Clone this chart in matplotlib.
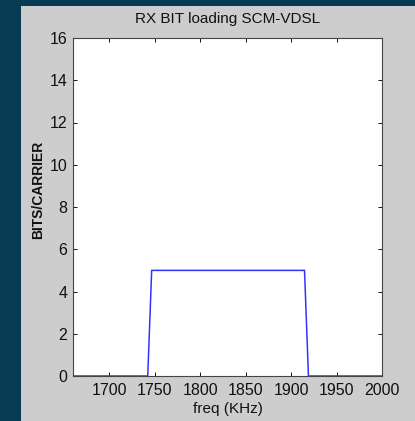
import matplotlib
matplotlib.use("Agg")
import matplotlib.pyplot as plt
from matplotlib.patches import Rectangle

# bit loading per carrier (carrier spacing 4.3125 kHz)
freq_khz = [1660.0, 1742.25, 1746.56, 1914.75, 1919.06, 2000.0]
bits = [0, 0, 5, 5, 0, 0]

x_ticks = [1700, 1750, 1800, 1850, 1900, 1950, 2000]
y_ticks = [0, 2, 4, 6, 8, 10, 12, 14, 16]

plt.rcParams['font.family'] = ['Liberation Sans', 'DejaVu Sans']

fig = plt.figure(figsize=(4.15, 4.21), dpi=100, facecolor="#073b53")
# grey window panel behind the axes
fig.patches.append(Rectangle((21 / 415, 0), 1 - 21 / 415, 415 / 421,
                             transform=fig.transFigure, facecolor="#cdcdcd",
                             edgecolor="none", zorder=-10))

ax = fig.add_axes([73 / 415, 45 / 421, 309 / 415, 338 / 421])
ax.set_zorder(5)
ax.set_facecolor("white")
ax.plot(freq_khz, bits, color="#3333ff", linewidth=1.1)

ax.set_xlim(1660, 2000)
ax.set_ylim(0, 16)
ax.set_xticks(x_ticks)
ax.set_yticks(y_ticks)
ax.tick_params(direction="in", length=3, width=0.7, top=True, right=True,
               labelsize=11.5, colors="#111111")
ax.tick_params(axis="x", pad=5)
ax.tick_params(axis="y", pad=4)
for s in ax.spines.values():
    s.set_color("#444444")
    s.set_linewidth(0.8)

ax.set_title("RX BIT loading SCM-VDSL", fontsize=11, color="#111111", pad=11)
ax.set_xlabel("freq (KHz)", fontsize=11, color="#111111", labelpad=3)
ax.set_ylabel("BITS/CARRIER", fontsize=10, color="#111111",
              fontweight="semibold")
ax.yaxis.set_label_coords(-0.09, 0.55)

fig.savefig("out.png", dpi=100, facecolor=fig.get_facecolor())
